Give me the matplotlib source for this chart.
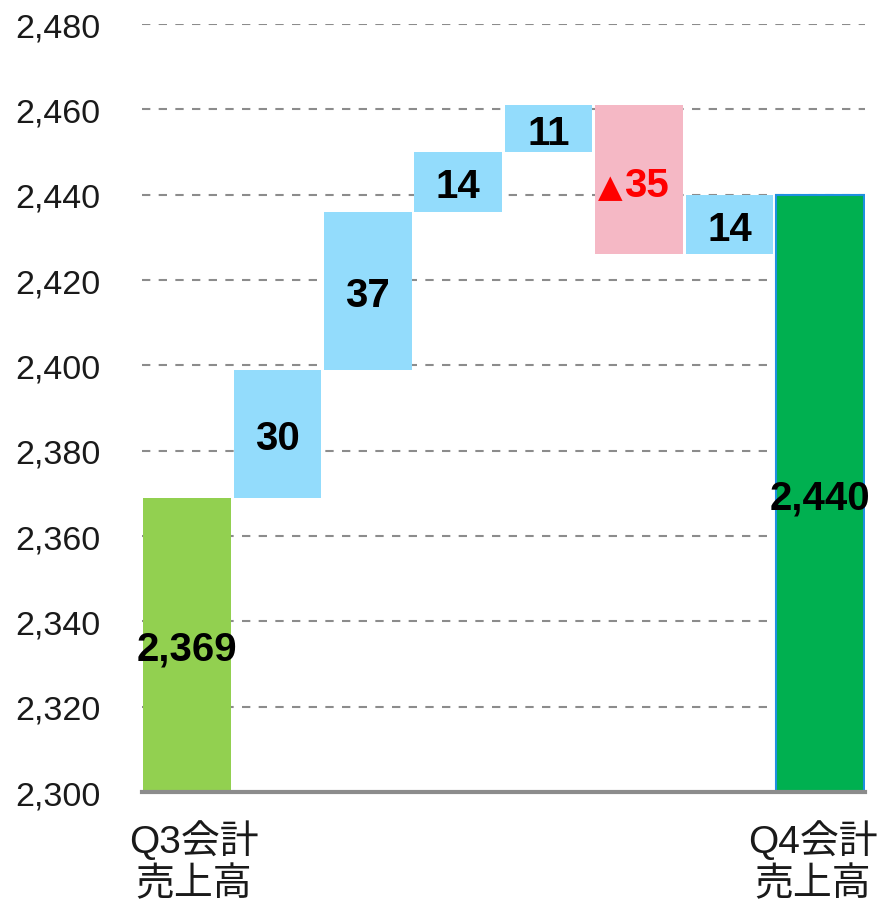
import matplotlib
matplotlib.use("Agg")
import matplotlib.pyplot as plt
import matplotlib.transforms as mtransforms
import numpy as np

plt.rcParams['font.family'] = ['Liberation Sans', 'Noto Sans CJK JP', 'DejaVu Sans']

categories = ["Q3会計\n売上高", "", "", "", "", "", "", "Q4会計\n売上高"]
start_total = 2369
changes = [30, 37, 14, 11, -35, 14]
end_total = 2440
labels = ["2,369", "30", "37", "14", "11", "▲35", "14", "2,440"]
yticks = [2300, 2320, 2340, 2360, 2380, 2400, 2420, 2440, 2460, 2480]
ytick_labels = ["2,300", "2,320", "2,340", "2,360", "2,380", "2,400", "2,420", "2,440", "2,460", "2,480"]

ymin, ymax = 2300, 2480

fig = plt.figure(figsize=(8.79, 9.03), dpi=100)
ax = fig.add_axes([0.1615, 0.1218, 0.8225, 0.8505])

x = np.arange(len(categories))
w = 0.97
c_start = "#92D050"
c_end = "#00B050"
c_up = "#93DCFC"
c_down = "#F5B8C5"

trans_lbl = mtransforms.offset_copy(ax.transData, fig=fig, x=0, y=-4, units="dots")
trans_base = mtransforms.offset_copy(ax.transData, fig=fig, x=0, y=-16, units="dots")
lbl_kw = dict(ha="center", va="center", fontsize=29, fontweight="bold",
              zorder=5, transform=trans_lbl)

# start bar
ax.bar(x[0], start_total - ymin, bottom=ymin, width=w, color=c_start, zorder=3)
ax.text(x[0], (start_total + ymin) / 2, labels[0], color="black", **lbl_kw)

cum = start_total
for i, d in enumerate(changes):
    xi = x[i + 1]
    lo = cum if d >= 0 else cum + d
    col = c_up if d >= 0 else c_down
    ax.bar(xi, abs(d), bottom=lo, width=w, color=col, zorder=3)
    lab = labels[i + 1]
    ym = lo + abs(d) / 2
    if d >= 0:
        ax.text(xi, ym, lab, color="black", **lbl_kw)
    else:
        # triangle mark and number drawn side by side
        ax.text(xi - 0.18, ym, lab[0], ha="right", va="baseline", fontsize=23,
                fontweight="bold", color="#FF0000", family=['DejaVu Sans'],
                zorder=5, transform=trans_base)
        ax.text(xi - 0.17, ym, lab[1:], ha="left", va="baseline", fontsize=29,
                fontweight="bold", color="#FF0000", zorder=5, transform=trans_base)
    cum += d

# end bar
ax.bar(x[-1], end_total - ymin, bottom=ymin, width=w, color=c_end,
       edgecolor="#1E90E0", linewidth=1.5, zorder=3)
ax.text(x[-1], (end_total + ymin) / 2, labels[-1], color="black", **lbl_kw)

ax.set_xlim(-0.5, len(categories) - 0.5)
ax.set_ylim(ymin, ymax)
ax.set_yticks(yticks)
ax.set_yticklabels(ytick_labels, fontsize=24.5, color="#1a1a1a")
tick_pos = x.astype(float).copy()
tick_pos[0] += 0.07
tick_pos[-1] -= 0.08
ax.set_xticks(tick_pos)
ax.set_xticklabels(categories, fontsize=28, color="#1a1a1a", linespacing=1.2)
ax.tick_params(axis="y", length=0, pad=30)
ax.tick_params(axis="x", length=0, pad=20)

for yv in yticks[1:]:
    ax.axhline(yv, color="#8C8C8C", linestyle=(0, (4, 4)), linewidth=1.5, zorder=1)

for s in ["top", "right", "left"]:
    ax.spines[s].set_visible(False)
ax.spines["bottom"].set_color("#8C8C8C")
ax.spines["bottom"].set_linewidth(3)
ax.spines["bottom"].set_zorder(4)

fig.savefig("out.png", dpi=100)
